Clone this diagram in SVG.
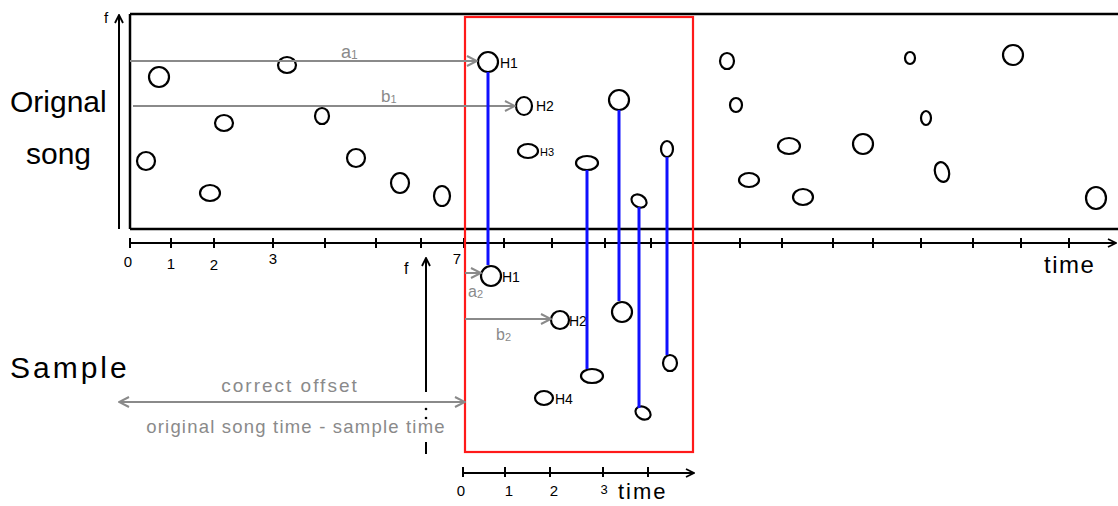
<svg xmlns="http://www.w3.org/2000/svg" width="1118" height="506" viewBox="0 0 1118 506">
<style>
.ax{stroke:#000;stroke-width:2.5;fill:none}
.tk{stroke:#000;stroke-width:2;fill:none}
.pt{stroke:#000;stroke-width:2.2;fill:none}
.gr{stroke:#8a8a8a;stroke-width:2;fill:none}
.bl{stroke:#1010ff;stroke-width:3;fill:none}
.rd{stroke:#ff1a1a;stroke-width:2.2;fill:none}
.lbl{font-family:"Liberation Sans",Arial,sans-serif;fill:#000}
.glbl{font-family:"Liberation Sans",Arial,sans-serif;fill:#8a8a8a}
</style>
<defs>
<marker id="ah" viewBox="0 0 10 10" refX="9" refY="5" markerWidth="10" markerHeight="10" markerUnits="userSpaceOnUse" orient="auto-start-reverse">
<path d="M1,1 L9,5 L1,9" fill="none" stroke="#000" stroke-width="1.8"/>
</marker>
<marker id="ahg" viewBox="0 0 12 12" refX="11" refY="6" markerWidth="12" markerHeight="12" markerUnits="userSpaceOnUse" orient="auto-start-reverse">
<path d="M1,1 L11,6 L1,11" fill="none" stroke="#8a8a8a" stroke-width="2"/>
</marker>
</defs>
<rect width="1118" height="506" fill="#fff"/>

<g id="song-frame">
<line class="ax" x1="130" y1="14" x2="1118" y2="14"/>
<line class="ax" x1="130" y1="14" x2="130" y2="229"/>
<line class="ax" x1="130" y1="229" x2="1118" y2="229"/>
<line class="tk" x1="119" y1="229" x2="119" y2="15" marker-end="url(#ah)"/>
<text class="lbl" x="104" y="23" font-size="15">f</text>
<text class="lbl" x="10" y="112" font-size="30">Orignal</text>
<text class="lbl" x="26" y="164" font-size="30">song</text>
</g>

<g id="song-timeline">
<line class="tk" x1="130" y1="243" x2="1116" y2="243" marker-end="url(#ah)"/>
<path class="tk" d="M130,238v10 M171,238v10 M214,238v10 M273,238v10 M325,238v10 M376,238v10 M421,238v10 M464,238v10 M504,238v10 M552,238v10 M605,238v10 M651,238v10 M693,238v10 M740,238v10 M782,238v10 M833,238v10 M873,238v10 M921,238v10 M973,238v10 M1021,238v10 M1069,238v10"/>
<text class="lbl" x="128" y="267" font-size="15" text-anchor="middle">0</text>
<text class="lbl" x="171" y="269" font-size="15" text-anchor="middle">1</text>
<text class="lbl" x="214" y="270" font-size="15" text-anchor="middle">2</text>
<text class="lbl" x="273" y="264" font-size="15" text-anchor="middle">3</text>
<text class="lbl" x="457" y="264" font-size="15" text-anchor="middle">7</text>
<text class="lbl" x="1044" y="273" font-size="24" letter-spacing="1.5">time</text>
</g>

<g id="song-points">
<ellipse class="pt" cx="159" cy="77" rx="10" ry="10" stroke-width="3"/>
<ellipse class="pt" cx="287" cy="65" rx="9" ry="8"/>
<ellipse class="pt" cx="224" cy="123" rx="9" ry="8"/>
<ellipse class="pt" cx="322" cy="116" rx="7" ry="8"/>
<ellipse class="pt" cx="146" cy="161" rx="9" ry="9"/>
<ellipse class="pt" cx="210" cy="193" rx="10" ry="8"/>
<ellipse class="pt" cx="356" cy="158" rx="9" ry="9"/>
<ellipse class="pt" cx="400" cy="183" rx="9" ry="10"/>
<ellipse class="pt" cx="442" cy="196" rx="8" ry="10"/>
<ellipse class="pt" cx="524" cy="106" rx="8" ry="9"/>
<ellipse class="pt" cx="528" cy="151" rx="10" ry="7"/>
<ellipse class="pt" cx="619" cy="100" rx="10" ry="10"/>
<ellipse class="pt" cx="587" cy="163" rx="11" ry="7"/>
<ellipse class="pt" cx="639" cy="201" rx="8" ry="6" transform="rotate(30 639 201)"/>
<ellipse class="pt" cx="667" cy="149" rx="6" ry="8"/>
<ellipse class="pt" cx="727" cy="61" rx="7" ry="8"/>
<ellipse class="pt" cx="736" cy="105" rx="6" ry="7"/>
<ellipse class="pt" cx="910" cy="58" rx="5" ry="6"/>
<ellipse class="pt" cx="1013" cy="55" rx="10" ry="10"/>
<ellipse class="pt" cx="926" cy="118" rx="5" ry="7"/>
<ellipse class="pt" cx="789" cy="146" rx="11" ry="8"/>
<ellipse class="pt" cx="863" cy="144" rx="10" ry="10"/>
<ellipse class="pt" cx="749" cy="180" rx="10" ry="7"/>
<ellipse class="pt" cx="803" cy="197" rx="10" ry="8"/>
<ellipse class="pt" cx="942" cy="172" rx="7" ry="10" transform="rotate(-15 942 172)"/>
<ellipse class="pt" cx="1096" cy="198" rx="10" ry="11"/>
</g>

<g id="song-hashes">
<ellipse class="pt" cx="488" cy="62" rx="10" ry="10" stroke-width="3"/>
<text class="lbl" x="500" y="68" font-size="14">H1</text>
<text class="lbl" x="536" y="111" font-size="14">H2</text>
<text class="lbl" x="540" y="156" font-size="11">H3</text>
</g>

<g id="sample-frame">
<rect class="rd" x="465" y="17" width="228" height="435"/>
<line class="tk" x1="426" y1="392" x2="426" y2="258" marker-end="url(#ah)"/>
<line class="tk" x1="426" y1="442" x2="426" y2="454"/>
<circle cx="426" cy="409" r="1.3" fill="#000"/>
<circle cx="426" cy="418" r="1.3" fill="#000"/>
<text class="lbl" x="404" y="274" font-size="16">f</text>
<text class="lbl" x="10" y="378" font-size="30" letter-spacing="3">Sample</text>
</g>

<g id="sample-timeline">
<line class="tk" x1="463" y1="473" x2="694" y2="473" marker-end="url(#ah)"/>
<path class="tk" d="M463,467v10 M505,467v10 M550,467v10 M603,467v10 M648,467v10"/>
<text class="lbl" x="461" y="496" font-size="15" text-anchor="middle">0</text>
<text class="lbl" x="509" y="496" font-size="15" text-anchor="middle">1</text>
<text class="lbl" x="554" y="496" font-size="15" text-anchor="middle">2</text>
<text class="lbl" x="604" y="494" font-size="13" text-anchor="middle">3</text>
<text class="lbl" x="618" y="499" font-size="22" letter-spacing="2">time</text>
</g>

<g id="sample-points">
<ellipse class="pt" cx="491" cy="276" rx="10" ry="10" stroke-width="3"/>
<text class="lbl" x="502" y="282" font-size="14">H1</text>
<ellipse class="pt" cx="560" cy="320" rx="9" ry="9"/>
<text class="lbl" x="569" y="326" font-size="14">H2</text>
<ellipse class="pt" cx="544" cy="398" rx="9" ry="7"/>
<text class="lbl" x="555" y="404" font-size="14">H4</text>
<ellipse class="pt" cx="592" cy="376" rx="11" ry="7"/>
<ellipse class="pt" cx="622" cy="312" rx="10" ry="10"/>
<ellipse class="pt" cx="643" cy="413" rx="8" ry="6" transform="rotate(30 643 413)"/>
<ellipse class="pt" cx="670" cy="363" rx="7" ry="8"/>
</g>

<g id="connectors">
<line class="gr" x1="130" y1="61" x2="477" y2="61" marker-end="url(#ahg)"/>
<line class="gr" x1="133" y1="106" x2="515" y2="106" marker-end="url(#ahg)"/>
<line class="gr" x1="465" y1="273" x2="481" y2="273" marker-end="url(#ahg)"/>
<line class="gr" x1="465" y1="319" x2="551" y2="319" marker-end="url(#ahg)"/>
<line class="gr" x1="119" y1="402" x2="465" y2="402" marker-start="url(#ahg)" marker-end="url(#ahg)"/>
<line class="bl" x1="488" y1="72" x2="488" y2="265"/>
<line class="bl" x1="619" y1="110" x2="619" y2="301"/>
<line class="bl" x1="587" y1="170" x2="587" y2="369"/>
<line class="bl" x1="639" y1="207" x2="639" y2="408"/>
<line class="bl" x1="667" y1="157" x2="667" y2="355"/>
</g>

<g id="labels">
<text class="glbl" x="341" y="58" font-size="18">a<tspan font-size="12" dy="1">1</tspan></text>
<text class="glbl" x="381" y="102" font-size="17">b<tspan font-size="11" dy="1">1</tspan></text>
<text class="glbl" x="468" y="297" font-size="16">a<tspan font-size="11" dy="1">2</tspan></text>
<text class="glbl" x="496" y="340" font-size="16">b<tspan font-size="11" dy="1">2</tspan></text>
<text class="glbl" x="290" y="392" font-size="19" letter-spacing="2" text-anchor="middle">correct offset</text>
<text class="glbl" x="296" y="433" font-size="18.5" letter-spacing="1.2" text-anchor="middle">original song time - sample time</text>
</g>
</svg>
